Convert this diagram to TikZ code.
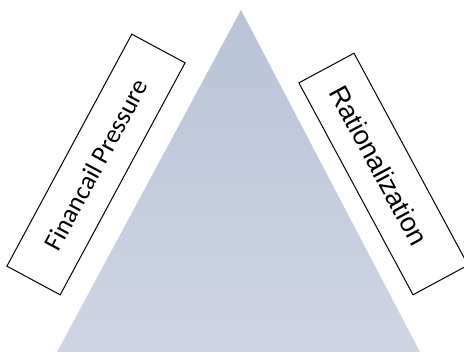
\documentclass[tikz,border=0pt]{standalone}
\usepackage{fontspec}
\newfontfamily\calibfont{Carlito}
\newfontfamily\arialfont{Liberation Sans}
\definecolor{tritop}{RGB}{184,195,216}
\definecolor{tribot}{RGB}{207,213,228}
\begin{document}
\begin{tikzpicture}[x=1pt,y=-1pt,
  labelbox/.style={draw=black,line width=1pt,fill=white,inner sep=0pt,anchor=center},
  labeltext/.style={inner sep=0pt}]
\useasboundingbox (0,0) rectangle (464,358);
\clip (0,0) rectangle (464,358);
% triangle
\coordinate (apex) at (241,10);
\coordinate (bl) at (57,352);
\coordinate (br) at (420,352);
\shade[top color=tritop,bottom color=tribot] (apex) -- (br) -- (bl) -- cycle;
% left box
\node[labelbox,minimum width=263.5pt,minimum height=60.5pt,rotate=61.7] (fin) at (96,164.5) {};
\node[labeltext,rotate=61.7] (fintext) at (fin.center) {\calibfont\fontsize{26}{30}\selectfont Financail Pressure};
% right box
\node[labelbox,minimum width=240.7pt,minimum height=62.6pt,rotate=-61.7] (rat) at (383.5,174) {};
\node[labeltext,rotate=-61.7] (rattext) at ([shift={(-4.5,-8.5)}]rat.center) {\arialfont\fontsize{27}{31}\selectfont Rationalization};
\end{tikzpicture}
\end{document}
